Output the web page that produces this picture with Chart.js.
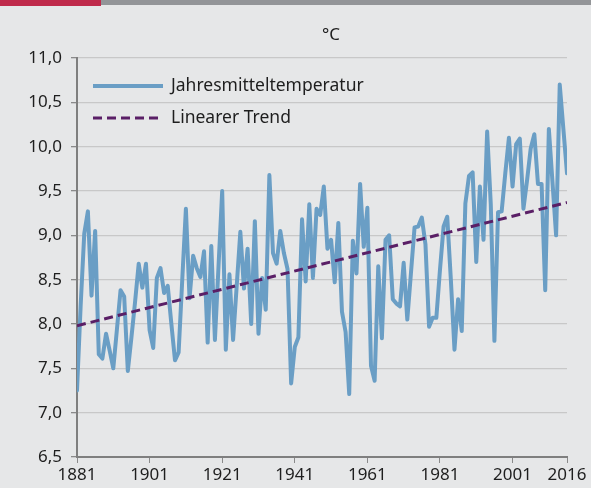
<!DOCTYPE html>
<html>
<head>
<meta charset="utf-8">
<script src="https://cdn.jsdelivr.net/npm/chart.js@4/dist/chart.umd.min.js"></script>
<style>
  html, body { margin: 0; padding: 0; background: #e6e7e8; }
  #wrap { width: 591px; height: 488px; position: relative; }
</style>
</head>
<body>
<div id="wrap"><canvas id="c" width="591" height="488"></canvas></div>
<script>
// ---- data ----
const firstYear = 1881;
const lastYear = 2016;
const annualMean = [
  7.25, 8.20, 9.02, 9.27, 8.32, 9.05, 7.66, 7.61, 7.89, 7.70,   // 1881-1890
  7.50, 7.94, 8.38, 8.31, 7.47, 7.85, 8.25, 8.68, 8.41, 8.68,   // 1891-1900
  7.93, 7.73, 8.52, 8.63, 8.35, 8.43, 8.00, 7.59, 7.68, 8.50,   // 1901-1910
  9.30, 8.29, 8.77, 8.63, 8.53, 8.82, 7.79, 8.88, 7.82, 8.66,   // 1911-1920
  9.50, 7.71, 8.56, 7.82, 8.43, 9.04, 8.40, 8.85, 8.00, 9.16,   // 1921-1930
  7.89, 8.52, 8.16, 9.68, 8.80, 8.68, 9.05, 8.80, 8.62, 7.33,   // 1931-1940
  7.74, 7.85, 9.18, 8.48, 9.35, 8.52, 9.30, 9.23, 9.55, 8.85,   // 1941-1950
  8.95, 8.47, 9.14, 8.14, 7.91, 7.21, 8.94, 8.57, 9.58, 8.87,   // 1951-1960
  9.31, 7.53, 7.36, 8.65, 7.84, 8.95, 9.00, 8.28, 8.23, 8.20,   // 1961-1970
  8.69, 8.05, 8.57, 9.09, 9.10, 9.20, 8.90, 7.97, 8.07, 8.07,   // 1971-1980
  8.61, 9.10, 9.21, 8.50, 7.71, 8.28, 7.92, 9.36, 9.67, 9.71,   // 1981-1990
  8.70, 9.55, 8.95, 10.17, 9.35, 7.81, 9.26, 9.27, 9.70, 10.10, // 1991-2000
  9.55, 10.03, 10.09, 9.30, 9.62, 9.98, 10.14, 9.58, 9.58, 8.38, // 2001-2010
  10.20, 9.60, 9.00, 10.70, 10.20, 9.70                          // 2011-2016
];
const trendYears = [1881, 2016];
const trendValues = [7.98, 9.37];
const xTickYears = [1881, 1901, 1921, 1941, 1961, 1981, 2001, 2016];
const yMin = 6.5, yMax = 11.0, yStep = 0.5;
const unitLabel = '°C';
const seriesLabels = ['Jahresmitteltemperatur', 'Linearer Trend'];

const years = [];
for (let y = firstYear; y <= lastYear; y++) years.push(y);

const FONT = '"Noto Sans", "Open Sans", sans-serif';
const TEXT = '#1e1e1e';
const BLUE = '#6a9ec5';
const PURPLE = '#5a1f66';

const decorPlugin = {
  id: 'decor',
  beforeDraw(chart) {
    const ctx = chart.ctx;
    ctx.save();
    ctx.fillStyle = '#e6e7e8';
    ctx.fillRect(0, 0, chart.width, chart.height);
    ctx.fillStyle = '#939598';
    ctx.fillRect(100, 0, chart.width - 100, 5);
    ctx.fillStyle = '#bf2a4b';
    ctx.fillRect(0, 0, 101, 6);
    ctx.restore();
  },
  afterDraw(chart) {
    const ctx = chart.ctx;
    ctx.save();
    // unit label
    ctx.fillStyle = TEXT;
    ctx.font = '17px ' + FONT;
    ctx.textAlign = 'center';
    ctx.textBaseline = 'middle';
    ctx.fillText(unitLabel, 331, 35);
    // legend inside plot
    const items = chart.data.datasets;
    const rows = [86, 118];
    items.forEach((ds, i) => {
      const y = rows[i];
      ctx.beginPath();
      ctx.strokeStyle = ds.borderColor;
      ctx.lineWidth = ds.borderWidth;
      ctx.setLineDash(ds.borderDash || []);
      ctx.lineCap = 'butt';
      ctx.moveTo(93, y);
      ctx.lineTo(163, y);
      ctx.stroke();
      ctx.setLineDash([]);
      ctx.fillStyle = TEXT;
      ctx.font = '17.5px ' + FONT;
      ctx.textAlign = 'left';
      ctx.textBaseline = 'middle';
      ctx.fillText(ds.label, 171, y);
    });
    ctx.restore();
  }
};

new Chart(document.getElementById('c'), {
  type: 'line',
  data: {
    datasets: [
      {
        label: seriesLabels[0],
        data: years.map((yr, i) => ({ x: yr, y: annualMean[i] })),
        borderColor: BLUE,
        borderWidth: 4,
        pointRadius: 0,
        tension: 0,
        borderJoinStyle: 'round',
        borderCapStyle: 'round',
        fill: false,
        order: 2
      },
      {
        label: seriesLabels[1],
        data: trendYears.map((yr, i) => ({ x: yr, y: trendValues[i] })),
        borderColor: PURPLE,
        borderWidth: 3,
        borderDash: [9, 5],
        pointRadius: 0,
        tension: 0,
        fill: false,
        order: 1
      }
    ]
  },
  options: {
    responsive: false,
    animation: false,
    events: [],
    layout: { padding: { left: 0, right: 24, top: 58, bottom: 0 } },
    plugins: { legend: { display: false }, title: { display: false }, tooltip: { enabled: false } },
    scales: {
      x: {
        type: 'linear',
        min: firstYear,
        max: lastYear,
        afterBuildTicks(scale) { scale.ticks = xTickYears.map(v => ({ value: v })); },
        afterFit(scale) { scale.height = 31; },
        grid: { display: true, drawOnChartArea: false, drawTicks: true, tickLength: 6, tickColor: '#8a8a8a', tickWidth: 1 },
        border: { display: true, color: '#7f7f7f', width: 2 },
        ticks: {
          autoSkip: false, maxRotation: 0, padding: 2,
          color: TEXT, font: { family: FONT, size: 17 },
          callback: v => String(v)
        }
      },
      y: {
        min: yMin,
        max: yMax,
        afterFit(scale) { scale.width = 77; },
        grid: { color: '#c8c8c8', lineWidth: 1.3, drawTicks: true, tickLength: 6, tickColor: '#8a8a8a' },
        border: { display: true, color: '#7f7f7f', width: 2 },
        ticks: {
          stepSize: yStep, padding: 9,
          color: TEXT, font: { family: FONT, size: 17 },
          callback: v => v.toFixed(1).replace('.', ',')
        }
      }
    }
  },
  plugins: [decorPlugin]
});
</script>
</body>
</html>
